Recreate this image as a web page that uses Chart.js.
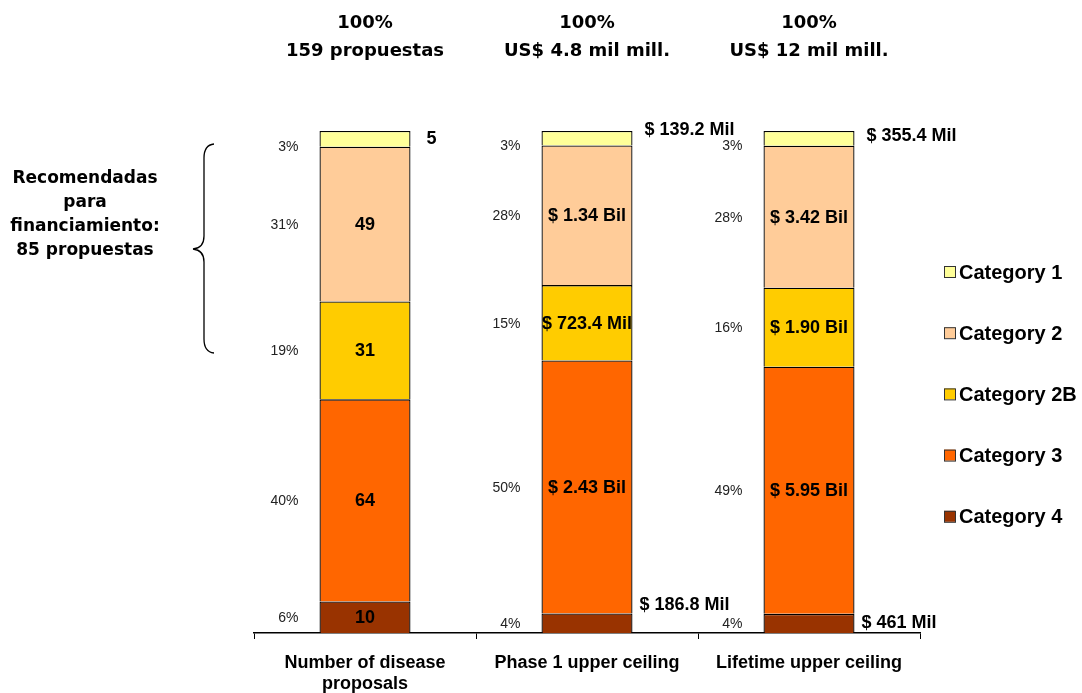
<!DOCTYPE html>
<html>
<head>
<meta charset="utf-8">
<script src="https://cdn.jsdelivr.net/npm/chart.js@4.4.1/dist/chart.umd.min.js"></script>
<style>
  html, body { margin: 0; padding: 0; background: #fff; }
  #wrap { position: relative; width: 1082px; height: 693px; }
</style>
</head>
<body>
<div id="wrap"><canvas id="chart" width="1082" height="693"></canvas></div>
<script>
// Columns of the chart (x axis)
const columns = [["Number of disease", "proposals"], "Phase 1 upper ceiling", "Lifetime upper ceiling"];
// Totals shown above each column
const headerLines = ["159 propuestas", "US$ 4.8 mil mill.", "US$ 12 mil mill."];
// Series, listed top to bottom as in the legend
const seriesNames = ["Category 1", "Category 2", "Category 2B", "Category 3", "Category 4"];
const seriesColors = ["#FFFF99", "#FFCC99", "#FFCC00", "#FF6600", "#993300"];
// First column = number of proposals, other columns = US$ millions
const category1 = [5, 139.2, 355.4];
const category2 = [49, 1340, 3420];
const category2B = [31, 723.4, 1900];
const category3 = [64, 2430, 5950];
const category4 = [10, 186.8, 461];
// Left side note
const noteLines = ["Recomendadas", "para", "financiamiento:", "85 propuestas"];

const seriesValues = [category1, category2, category2B, category3, category4];
const totals = columns.map((_, i) => seriesValues.reduce((s, arr) => s + arr[i], 0));

function formatValue(v, col) {
    if (col === 0) return String(v);
    if (v >= 1000) return "$ " + (v / 1000).toFixed(2) + " Bil";
    return "$ " + v + " Mil";
}

// Stack from bottom: Category 4 first
const datasets = seriesNames.map((name, k) => ({
    label: name,
    raw: seriesValues[k],
    data: seriesValues[k].map((v, i) => (v / totals[i]) * 100),
    backgroundColor: seriesColors[k],
    borderColor: "#000",
    borderWidth: 1.3,
    borderSkipped: "start",
    barPercentage: 0.41,
    categoryPercentage: 1,
})).reverse();

const SANS = '"Liberation Sans", Arial, sans-serif';
const TAHOMA = '"DejaVu Sans", Verdana, sans-serif';

// a couple of outside labels sit a bit higher in the original
const labelNudge = { "Category 1-1": -8, "Category 4-1": -18, "Category 1-2": -2 };

const annotate = {
    id: "annotate",
    afterDatasetsDraw(chart) {
        const ctx = chart.ctx;
        ctx.save();
        ctx.textBaseline = "middle";
        chart.data.datasets.forEach((ds, di) => {
            const meta = chart.getDatasetMeta(di);
            meta.data.forEach((bar, i) => {
                const top = Math.min(bar.y, bar.base);
                const bottom = Math.max(bar.y, bar.base);
                const cy = (top + bottom) / 2;
                const left = bar.x - bar.width / 2;
                const right = bar.x + bar.width / 2;
                const small = bottom - top < 25;

                // percentage on the left of the bar
                ctx.font = "14px " + SANS;
                ctx.fillStyle = "#222";
                ctx.textAlign = "right";
                const py = ds.label === "Category 1" ? cy + 8 : cy + 1;
                ctx.fillText(Math.round(ds.data[i]) + "%", left - 21, py);

                // value label
                const txt = formatValue(ds.raw[i], i);
                ctx.font = "bold 18px " + SANS;
                ctx.fillStyle = "#000";
                if (small) {
                    ctx.textAlign = "left";
                    const dy = labelNudge[ds.label + "-" + i] || 0;
                    const dx = i === 0 ? 16 : (ds.label === "Category 1" ? 12 : 7);
                    ctx.fillText(txt, right + dx, cy + dy);
                } else {
                    ctx.textAlign = "center";
                    ctx.fillText(txt, bar.x, cy + 1);
                }
            });
        });

        // headers above the columns
        const xs = chart.scales.x;
        ctx.font = "bold 18px " + TAHOMA;
        ctx.fillStyle = "#000";
        ctx.textAlign = "center";
        columns.forEach((_, i) => {
            const x = xs.getPixelForValue(i);
            ctx.fillText("100%", x, 23);
            ctx.fillText(headerLines[i], x, 51);
        });

        // note + brace on the left
        ctx.font = "bold 17px " + TAHOMA;
        noteLines.forEach((line, k) => ctx.fillText(line, 85, 179 + k * 23.7));
        ctx.strokeStyle = "#000";
        ctx.lineWidth = 1.3;
        ctx.beginPath();
        ctx.moveTo(214, 144);
        ctx.quadraticCurveTo(204, 145, 204, 158);
        ctx.lineTo(204, 236);
        ctx.quadraticCurveTo(204, 248, 193, 249);
        ctx.quadraticCurveTo(204, 250, 204, 262);
        ctx.lineTo(204, 339);
        ctx.quadraticCurveTo(204, 352, 214, 353);
        ctx.stroke();

        // legend
        ctx.font = "bold 20px " + SANS;
        ctx.textAlign = "left";
        seriesNames.forEach((name, k) => {
            const y = 272 + k * 61.2;
            ctx.fillStyle = seriesColors[k];
            ctx.fillRect(944, y - 6, 11, 11);
            ctx.strokeStyle = "#333";
            ctx.lineWidth = 1;
            ctx.strokeRect(944.5, y - 5.5, 11, 11);
            ctx.fillStyle = "#000";
            ctx.fillText(name, 959, y + 1);
        });
        ctx.restore();
    },
};

new Chart(document.getElementById("chart"), {
    type: "bar",
    data: { labels: columns, datasets },
    options: {
        responsive: false,
        animation: false,
        devicePixelRatio: 1,
        layout: { padding: { left: 254, right: 162, top: 131, bottom: 0 } },
        plugins: { legend: { display: false }, tooltip: { enabled: false } },
        scales: {
            x: {
                stacked: true,
                grid: { offset: true, drawOnChartArea: false, tickLength: 6, color: "#000" },
                border: { color: "#000", width: 1.5 },
                ticks: { color: "#000", font: { family: SANS, size: 18, weight: "bold" }, padding: 13 },
                afterFit: (s) => { s.height = 60; },
            },
            y: { stacked: true, display: false, min: 0, max: 100 },
        },
    },
    plugins: [annotate],
});
</script>
</body>
</html>
